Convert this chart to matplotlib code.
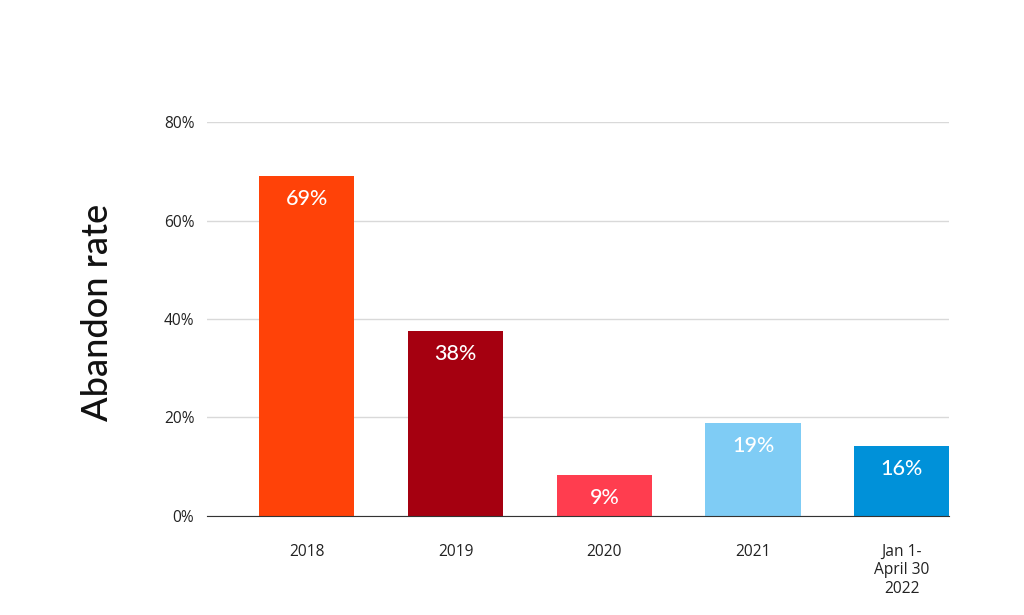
import matplotlib.pyplot as plt
from matplotlib.ticker import FuncFormatter

# data
periods = ["2018", "2019", "2020", "2021", "Jan 1-\nApril 30\n2022"]
abandon_rate = [69, 37.6, 8.3, 18.9, 14.2]
bar_labels = ["69%", "38%", "9%", "19%", "16%"]
bar_colors = ["#FF4208", "#A50010", "#FF3D4F", "#7FCCF5", "#0091D9"]

fig = plt.figure(figsize=(10.24, 6.15), dpi=100)
ax = fig.add_axes([0.202, 0.161, 0.725, 0.6406])

x = range(len(periods))
bars = ax.bar(x, abandon_rate, width=0.64, color=bar_colors, zorder=3)

for b, lab in zip(bars, bar_labels):
    ax.annotate(lab, (b.get_x() + b.get_width() / 2, b.get_height()),
                xytext=(0, -23), textcoords="offset pixels",
                ha="center", va="center", color="white",
                fontsize=15.5, family="Lato", fontweight="medium", zorder=4)

ax.set_xlim(-0.673, 4.32)
ax.set_ylim(0, 80)
ax.set_yticks([0, 20, 40, 60, 80])
ax.yaxis.set_major_formatter(FuncFormatter(lambda v, p: f"{v:.0f}%"))
ax.set_xticks(list(x))
ax.set_xticklabels(periods, family="Open Sans", fontsize=11.2, color="#222222",
                   linespacing=1.2)
for t in ax.get_yticklabels():
    t.set_family("Open Sans")
    t.set_fontsize(11.2)
    t.set_color("#222222")
ax.tick_params(axis="both", length=0)
ax.tick_params(axis="y", pad=9)
ax.tick_params(axis="x", pad=20)
ax.yaxis.grid(True, color="#d9d9d9", linewidth=1, zorder=0)
for s in ["top", "right", "left"]:
    ax.spines[s].set_visible(False)
ax.spines["bottom"].set_color("#333333")
ax.spines["bottom"].set_zorder(5)

fig.text(0.095, 1 - 312 / 615, "Abandon rate", rotation=90,
         ha="center", va="center", fontsize=26, family="Lato",
         fontweight="medium", color="#111111")

plt.savefig("out.png", dpi=100)
